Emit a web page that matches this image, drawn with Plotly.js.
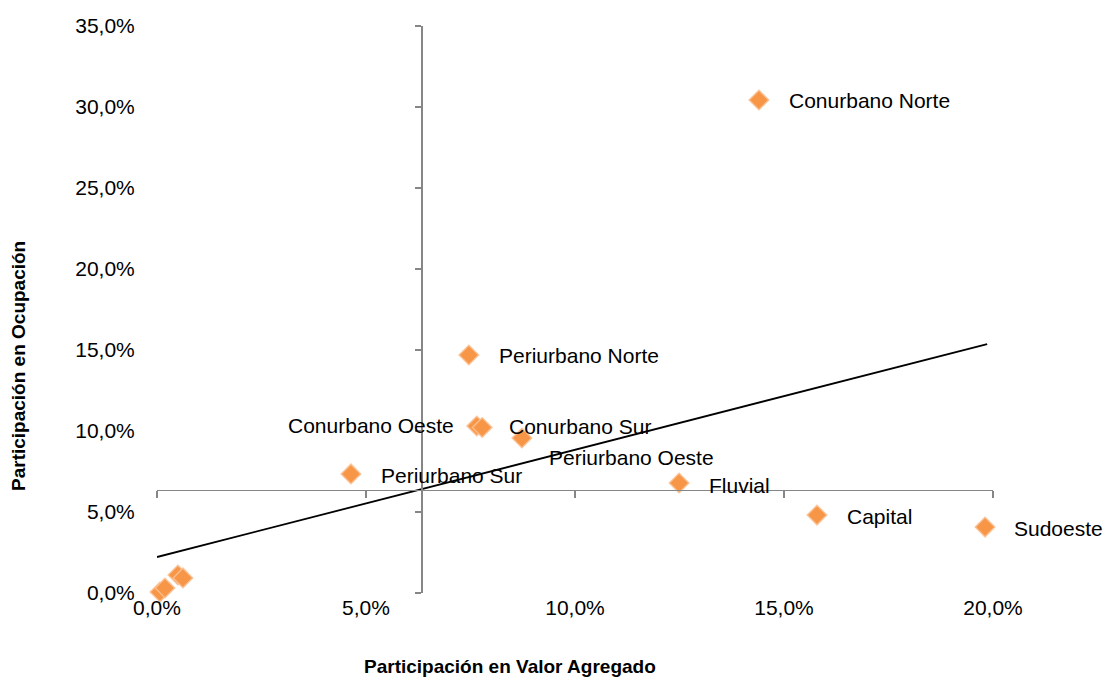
<!DOCTYPE html>
<html>
<head>
<meta charset="utf-8">
<script src="https://cdn.plot.ly/plotly-3.0.1.min.js"></script>
<style>html,body{margin:0;padding:0;background:#fff;}#chart{width:1105px;height:677px;}</style>
</head>
<body>
<div id="chart"></div>
<script>
// Data (percent values)
const regions = ['Conurbano Norte','Periurbano Norte','Conurbano Oeste','Conurbano Sur','Periurbano Oeste','Periurbano Sur','Fluvial','Capital','Sudoeste','','','',''];
const valorAgregado = [14.40, 7.46, 7.65, 7.78, 8.73, 4.64, 12.49, 15.79, 19.81, 0.07, 0.19, 0.50, 0.62];
const ocupacion     = [30.43, 14.69, 10.31, 10.22, 9.57, 7.35, 6.79, 4.81, 4.07, 0.06, 0.31, 1.11, 0.93];
const trendX = [0, 19.86];
const trendY = [2.22, 15.37];
const xTickVals = [0, 5, 10, 15, 20];
const xTickLabels = ['0,0%','5,0%','10,0%','15,0%','20,0%'];
const yTickVals = [0, 5, 10, 15, 20, 25, 30, 35];
const yTickLabels = ['0,0%','5,0%','10,0%','15,0%','20,0%','25,0%','30,0%','35,0%'];
const xTitle = 'Participación en Valor Agregado';
const yTitle = 'Participación en Ocupación';
const crossX = 6.32, crossY = 6.36;

// label placement (pixel offsets from the point), layout only
const labelPos = [
  {dx:28, dy:0, anchor:'left'},
  {dx:28, dy:0, anchor:'left'},
  {dx:-21, dy:0, anchor:'right'},
  {dx:25, dy:-1, anchor:'left'},
  {dx:25, dy:20, anchor:'left'},
  {dx:28, dy:2, anchor:'left'},
  {dx:28, dy:2, anchor:'left'},
  {dx:28, dy:1, anchor:'left'},
  {dx:27, dy:1, anchor:'left'}
];

const font = 'Liberation Sans, Arial, sans-serif';
const fs = 21;
const xRange = [0, 20], yRange = [0, 35];

const traces = [
  {
    x: trendX, y: trendY, mode: 'lines', type: 'scatter',
    line: {color: '#000000', width: 1.8}, hoverinfo: 'skip', cliponaxis: false
  },
  {
    x: valorAgregado, y: ocupacion, mode: 'markers', type: 'scatter',
    marker: {symbol: 'diamond', size: 15, color: '#F79646', line: {color: 'rgba(251,192,146,0.9)', width: 1.5}},
    cliponaxis: false
  },
  {
    x: [crossX], y: [crossY], xaxis: 'x2', yaxis: 'y2', mode: 'markers', type: 'scatter',
    marker: {opacity: 0}, hoverinfo: 'skip'
  }
];

const annotations = [];
labelPos.forEach((p, i) => {
  annotations.push({
    x: valorAgregado[i], y: ocupacion[i], xref: 'x', yref: 'y',
    text: regions[i], showarrow: false, xanchor: p.anchor, yanchor: 'middle',
    xshift: p.dx, yshift: -p.dy,
    font: {family: font, size: fs, color: '#000000'}
  });
});
annotations.push({
  x: 510, y: 666, xref: 'paper', yref: 'paper', text: '<b>' + xTitle + '</b>', showarrow: false,
  xanchor: 'center', yanchor: 'middle', font: {family: font, size: 19, color: '#000000'}
});
annotations.push({
  x: 18, y: 366, xref: 'paper', yref: 'paper', text: '<b>' + yTitle + '</b>', showarrow: false, textangle: -90,
  xanchor: 'center', yanchor: 'middle', font: {family: font, size: 19, color: '#000000'}
});
// convert pixel positions of titles into paper fractions
const plotL = 157, plotR = 1105 - 112, plotT = 26, plotB = 677 - 84;
annotations.slice(-2).forEach(a => {
  a.x = (a.x - plotL) / (plotR - plotL);
  a.y = (plotB - a.y) / (plotB - plotT);
});

const layout = {
  width: 1105, height: 677,
  margin: {l: 157, r: 112, t: 26, b: 84},
  paper_bgcolor: '#ffffff', plot_bgcolor: '#ffffff',
  showlegend: false,
  xaxis: {
    range: xRange, showgrid: false, zeroline: false, showline: false,
    tickvals: xTickVals, ticktext: xTickLabels,
    ticks: '', 
    tickfont: {family: font, size: fs, color: '#000000'}
  },
  yaxis: {
    range: yRange, showgrid: false, zeroline: false, showline: false,
    tickvals: yTickVals, ticktext: yTickLabels,
    ticks: 'outside', ticklen: 17, tickcolor: 'rgba(0,0,0,0)',
    tickfont: {family: font, size: fs, color: '#000000'}
  },
  xaxis2: {
    range: xRange, overlaying: 'x', anchor: 'free', position: crossY / (yRange[1] - yRange[0]),
    showgrid: false, zeroline: false, showline: true, linecolor: '#868686', linewidth: 1.5,
    tickvals: xTickVals, ticks: 'outside', ticklen: 7, tickcolor: '#868686', tickwidth: 1.5,
    showticklabels: false
  },
  yaxis2: {
    range: yRange, overlaying: 'y', anchor: 'free', position: crossX / (xRange[1] - xRange[0]),
    showgrid: false, zeroline: false, showline: true, linecolor: '#868686', linewidth: 1.5,
    tickvals: yTickVals, ticks: 'outside', ticklen: 6, tickcolor: '#868686', tickwidth: 1.5,
    showticklabels: false
  },
  annotations: annotations
};

Plotly.newPlot('chart', traces, layout, {displayModeBar: false, staticPlot: true});
</script>
</body>
</html>
